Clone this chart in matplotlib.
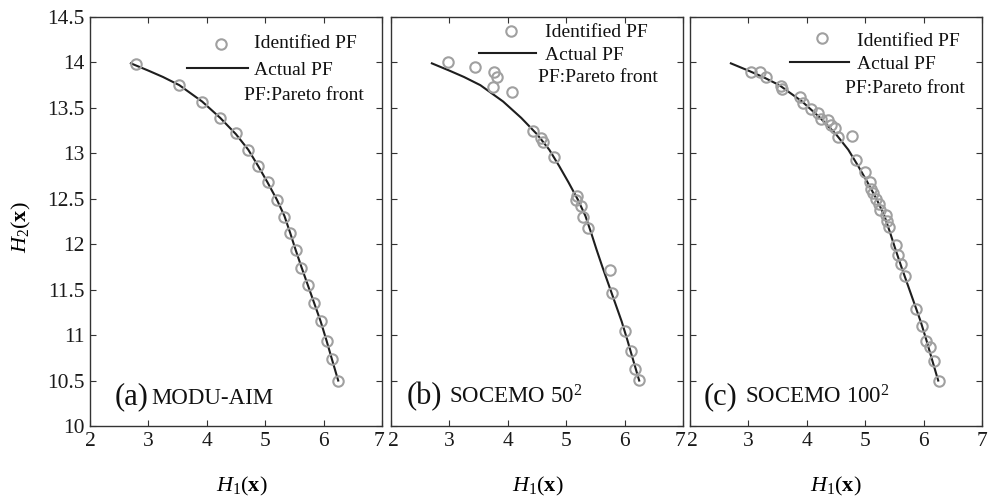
import numpy as np
import matplotlib
matplotlib.use("Agg")
import matplotlib.pyplot as plt
from matplotlib.transforms import ScaledTranslation

plt.rcParams['font.family'] = ['Liberation Serif', 'DejaVu Serif']
plt.rcParams['mathtext.fontset'] = 'custom'
plt.rcParams['mathtext.rm'] = 'Liberation Serif'
plt.rcParams['mathtext.it'] = 'Liberation Serif:italic'
plt.rcParams['mathtext.bf'] = 'Liberation Serif:bold'

# actual Pareto front
pf_x = [2.70, 3.00, 3.25, 3.53, 3.92, 4.23, 4.50, 4.71, 4.88, 5.04, 5.20,
        5.33, 5.43, 5.52, 5.62, 5.73, 5.84, 5.95, 6.05, 6.14, 6.25]
pf_y = [13.99, 13.91, 13.84, 13.75, 13.57, 13.39, 13.21, 13.04, 12.86, 12.68, 12.49,
        12.31, 12.12, 11.94, 11.75, 11.55, 11.35, 11.15, 10.94, 10.74, 10.50]

# identified points, panel (a) MODU-AIM
a_x = [2.79, 3.53, 3.92, 4.23, 4.50, 4.71, 4.88, 5.04, 5.20, 5.33, 5.43,
       5.52, 5.62, 5.73, 5.84, 5.95, 6.05, 6.14, 6.24]
a_y = [13.98, 13.75, 13.57, 13.39, 13.22, 13.04, 12.86, 12.68, 12.49, 12.30, 12.12,
       11.94, 11.74, 11.55, 11.35, 11.16, 10.94, 10.74, 10.50]

# panel (b) SOCEMO 50^2
b_x = [2.97, 3.43, 3.77, 3.82, 3.74, 4.07, 4.43, 4.56, 4.60, 4.79, 5.18,
       5.16, 5.26, 5.29, 5.38, 5.75, 5.78, 6.00, 6.11, 6.18, 6.25]
b_y = [14.00, 13.95, 13.90, 13.84, 13.73, 13.67, 13.25, 13.17, 13.12, 12.96, 12.53,
       12.49, 12.42, 12.30, 12.18, 11.72, 11.46, 11.05, 10.83, 10.63, 10.51]

# panel (c) SOCEMO 100^2
c_x = [3.05, 3.20, 3.30, 3.56, 3.58, 3.89, 3.93, 4.08, 4.20, 4.25, 4.36, 4.41,
       4.49, 4.54, 4.77, 4.85, 4.99, 5.08, 5.10, 5.14, 5.18, 5.24, 5.26, 5.35,
       5.37, 5.41, 5.52, 5.57, 5.62, 5.68, 5.87, 5.98, 6.04, 6.11, 6.17, 6.27]
c_y = [13.89, 13.90, 13.84, 13.74, 13.71, 13.62, 13.55, 13.49, 13.44, 13.38, 13.37, 13.31,
       13.28, 13.18, 13.19, 12.93, 12.80, 12.68, 12.61, 12.56, 12.50, 12.44, 12.38, 12.32,
       12.26, 12.19, 11.99, 11.88, 11.78, 11.65, 11.29, 11.10, 10.94, 10.87, 10.72, 10.50]

tags = ['(a)', '(b)', '(c)']
names = ['MODU-AIM', r'SOCEMO 50$^2$', r'SOCEMO 100$^2$']
xticks = [2, 3, 4, 5, 6, 7]
yticks = [10, 10.5, 11, 11.5, 12, 12.5, 13, 13.5, 14, 14.5]

# legend placement per panel (axes fraction)
leg = [dict(mk=(0.447, 0.934), t1=(0.560, 0.934), ln=(0.333, 0.540, 0.875), t2=(0.560, 0.870), t3=(0.529, 0.807)),
       dict(mk=(0.412, 0.966), t1=(0.529, 0.963), ln=(0.302, 0.495, 0.911), t2=(0.529, 0.907), t3=(0.502, 0.853)),
       dict(mk=(0.453, 0.948), t1=(0.571, 0.941), ln=(0.342, 0.545, 0.889), t2=(0.571, 0.885), t3=(0.531, 0.826))]
tagx = [(0.086, 0.210), (0.055, 0.199), (0.045, 0.188)]
xlab = [0.521, 0.503, 0.498]

pts = [(a_x, a_y), (b_x, b_y), (c_x, c_y)]
lefts = [90/993, 391/993, 690/993]
grey = '#a0a0a0'
dark = '#1e1e1e'

fig = plt.figure(figsize=(9.93, 4.99), dpi=100)
for i in range(3):
    ax = fig.add_axes([lefts[i], 1 - 426/499, 292/993, 409/499])
    ax.plot(pf_x, pf_y, '-', color=dark, lw=1.5, zorder=2)
    ax.plot(pts[i][0], pts[i][1], 'o', mfc='none', mec=grey, mew=1.5, ms=7.5, zorder=3)
    ax.set_xlim(2, 7)
    ax.set_ylim(10, 14.5)
    ax.set_xticks(xticks)
    ax.set_yticks(yticks)
    ax.tick_params(direction='in', top=True, right=True, length=4, width=0.8,
                   labelsize=15.5, colors='#333333', labelcolor='#1a1a1a', pad=4)
    for s in ax.spines.values():
        s.set_color('#333333')
        s.set_linewidth(1.0)
    if i == 0:
        ax.set_yticklabels(['%g' % v for v in yticks])
        ax.set_ylabel(r'$H_2(\mathbf{x})$', fontsize=16)
        ax.yaxis.set_label_coords(-0.196, 0.487)
    else:
        ax.set_yticklabels([])
    ax.set_xlabel(r'$H_1(\mathbf{x})$', fontsize=16)
    ax.xaxis.set_label_coords(xlab[i], -0.12)

    # nudge the end labels apart where panels meet
    tl = ax.get_xticklabels()
    if i < 2:
        tl[-1].set_transform(tl[-1].get_transform() + ScaledTranslation(-3/100, 0, fig.dpi_scale_trans))
    if i > 0:
        tl[0].set_transform(tl[0].get_transform() + ScaledTranslation(2/100, 0, fig.dpi_scale_trans))

    L = leg[i]
    ax.plot([L['mk'][0]], [L['mk'][1]], 'o', mfc='none', mec=grey, mew=1.5, ms=7.5,
            transform=ax.transAxes, clip_on=False)
    ax.plot([L['ln'][0], L['ln'][1]], [L['ln'][2], L['ln'][2]], '-', color=dark, lw=1.5,
            transform=ax.transAxes)
    ax.text(L['t1'][0], L['t1'][1], 'Identified PF', transform=ax.transAxes,
            fontsize=14, va='center', ha='left', color='#111111')
    ax.text(L['t2'][0], L['t2'][1], 'Actual PF', transform=ax.transAxes,
            fontsize=14, va='center', ha='left', color='#111111')
    ax.text(L['t3'][0], L['t3'][1], 'PF:Pareto front', transform=ax.transAxes,
            fontsize=14, va='center', ha='left', color='#111111')

    ax.text(tagx[i][0], 0.054, tags[i], transform=ax.transAxes, fontsize=22,
            va='baseline', ha='left', color='#111111')
    ax.text(tagx[i][1], 0.054, names[i], transform=ax.transAxes, fontsize=16.5,
            va='baseline', ha='left', color='#111111')

fig.savefig('out.png', dpi=100)
